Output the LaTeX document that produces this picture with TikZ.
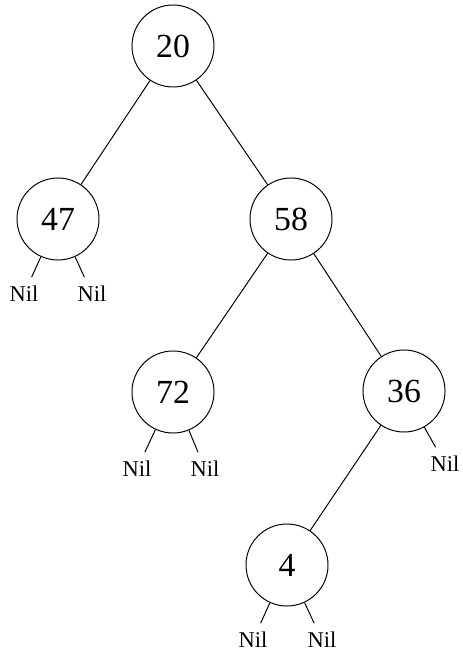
\documentclass[tikz,border=0pt]{standalone}
\usepackage{fontspec}
\setmainfont{Liberation Serif}

\begin{document}
\begin{tikzpicture}[x=0.025cm, y=-0.025cm, line width=0.7pt,
		vtx/.style={circle, draw, minimum size=2.05cm, inner sep=0pt, font=\fontsize{24}{28}\selectfont},
		nil/.style={inner sep=6pt, font=\fontsize{16}{19}\selectfont}]
	\useasboundingbox (0, 0) rectangle (462, 655);

	\node[vtx] (A) at (173, 46) {20};
	\node[vtx] (B) at (58, 219) {47};
	\node[vtx] (C) at (291, 219) {58};
	\node[vtx] (D) at (173, 392) {72};
	\node[vtx] (E) at (404, 391) {36};
	\node[vtx] (F) at (287, 565) {4};

	% Nil
	\node[nil] (B1) at (24, 294) {Nil};
	\node[nil] (B2) at (92, 294) {Nil};
	\node[nil] (D1) at (137, 469) {Nil};
	\node[nil] (D2) at (205, 469) {Nil};
	\node[nil] (E2) at (445, 464) {Nil};
	\node[nil] (F1) at (253, 640) {Nil};
	\node[nil] (F2) at (322, 640) {Nil};

	% 線を引く
	\draw (A) -- (B);
	\draw (A) -- (C);
	\draw (C) -- (D);
	\draw (C) -- (E);
	\draw (E) -- (F);

	\draw (B) -- (B1);
	\draw (B) -- (B2);
	\draw (D) -- (D1);
	\draw (D) -- (D2);
	\draw (E) -- (E2);
	\draw (F) -- (F1);
	\draw (F) -- (F2);
\end{tikzpicture}
\end{document}
